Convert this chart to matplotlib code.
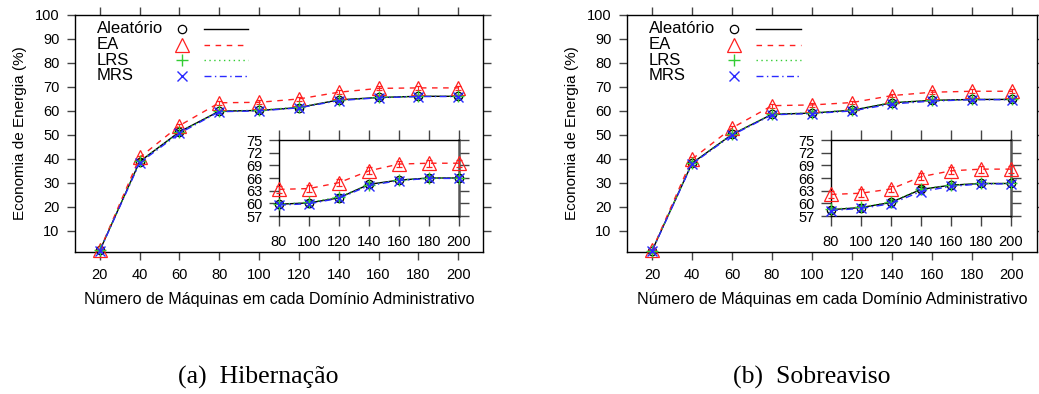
import matplotlib
matplotlib.use('Agg')
import matplotlib.pyplot as plt

plt.rcParams['font.family'] = ['Liberation Sans', 'DejaVu Sans']

# Dados
maquinas = [20, 40, 60, 80, 100, 120, 140, 160, 180, 200]

# (a) Hibernação
aleatorio_a = [1.8, 38.8, 51.2, 59.8, 60.1, 61.3, 64.5, 65.5, 66.0, 66.0]
ea_a = [2.0, 40.5, 53.8, 63.3, 63.5, 64.9, 67.7, 69.3, 69.5, 69.5]
lrs_a = [1.8, 38.9, 51.0, 59.8, 60.2, 61.5, 64.4, 65.5, 66.0, 66.0]
mrs_a = [1.7, 38.3, 50.6, 59.6, 59.9, 61.2, 64.2, 65.4, 65.9, 65.9]

# (b) Sobreaviso
aleatorio_b = [1.6, 38.1, 50.1, 58.5, 59.0, 60.2, 63.3, 64.3, 64.7, 64.7]
ea_b = [1.8, 39.8, 52.8, 62.1, 62.4, 63.4, 66.3, 67.7, 68.1, 68.1]
lrs_b = [1.6, 38.2, 50.2, 58.6, 59.1, 60.3, 63.4, 64.3, 64.7, 64.7]
mrs_b = [1.5, 37.8, 49.8, 58.3, 58.8, 59.9, 62.8, 64.0, 64.6, 64.6]

# erros
erro_ea = [0.5, 0.8, 0.8, 0.8, 0.9, 0.8, 0.8, 0.8, 0.8, 0.8]
erro_outros = [0.4, 0.7, 0.7, 0.6, 0.7, 0.7, 0.6, 0.6, 0.6, 0.6]

nomes = ['Aleatório', 'EA', 'LRS', 'MRS']
estilos = [
    dict(color='black', marker='o', ls='-', ms=6, mfc='none', mew=0.9),
    dict(color='#ff2020', marker='^', ls=(0, (4, 4)), ms=9.5, mfc='none', mew=0.9),
    dict(color='#33cc33', marker='+', ls=(0, (1, 2.5)), ms=9, mew=1.0),
    dict(color='#2a2aff', marker='x', ls=(0, (5, 2.5, 1, 2.5)), ms=7, mew=1.0),
]

W, H = 1039, 394
fig = plt.figure(figsize=(W / 100, H / 100), dpi=100)


def caixa(l, r, t, b):
    return [l / W, 1 - b / H, (r - l) / W, (b - t) / H]


def eixo_estilo(ax, tam):
    ax.tick_params(direction='out', length=tam, width=1, color='#444444',
                   top=True, right=True, labelsize=10.5, pad=5)
    for s in ax.spines.values():
        s.set_linewidth(1)


def desenha(ax, series, ini=0):
    for ys, st, err in zip(series, estilos,
                           [erro_outros, erro_ea, erro_outros, erro_outros]):
        ax.errorbar(maquinas[ini:], ys[ini:], yerr=err[ini:], capsize=2,
                    elinewidth=0.8, capthick=0.8, lw=1.0, clip_on=False,
                    zorder=3, **st)


paineis = [
    ([aleatorio_a, ea_a, lrs_a, mrs_a], 75, 483, 279, 459, '(a)  Hibernação', 178),
    ([aleatorio_b, ea_b, lrs_b, mrs_b], 627, 1037, 831, 1011, '(b)  Sobreaviso', 733),
]

for series, l, r, il, ir, legenda, cx in paineis:
    ax = fig.add_axes(caixa(l, r, 14.7, 251.7))
    desenha(ax, series)
    ax.set_xlim(7.5, 212.5)
    ax.set_ylim(1.25, 100)
    ax.set_xticks(maquinas)
    ax.set_yticks(range(10, 101, 10))
    eixo_estilo(ax, 6)
    ax.tick_params(axis='x', pad=6)
    ax.set_xlabel('Número de Máquinas em cada Domínio Administrativo',
                  fontsize=11.6, labelpad=7)
    ax.set_ylabel('Economia de Energia (%)', fontsize=11, labelpad=6)

    # legenda no estilo gnuplot
    for i, (nome, st) in enumerate(zip(nomes, estilos)):
        yy = 0.94 - i * 0.066
        ax.text(0.053, yy, nome, transform=ax.transAxes, fontsize=12,
                va='center', ha='left')
        ax.plot([0.262], [yy], transform=ax.transAxes, ls='none',
                **{k: v for k, v in st.items() if k != 'ls'})
        ax.plot([0.315, 0.424], [yy, yy], transform=ax.transAxes,
                color=st['color'], ls=st['ls'], lw=1.0)

    # detalhe
    axi = fig.add_axes(caixa(il, ir, 140, 216))
    desenha(axi, series, ini=3)
    axi.set_xlim(80, 200)
    axi.set_ylim(57, 75)
    axi.set_xticks(maquinas[3:])
    axi.set_yticks(range(57, 76, 3))
    eixo_estilo(axi, 7)
    axi.tick_params(axis='x', pad=7)
    axi.spines['right'].set_color('#555555')
    axi.spines['right'].set_linewidth(1.8)

    fig.text(cx / W, 1 - 384 / H, legenda, ha='left', va='baseline',
             fontsize=18.5, family='Liberation Serif')

plt.savefig('out.png', dpi=100)
